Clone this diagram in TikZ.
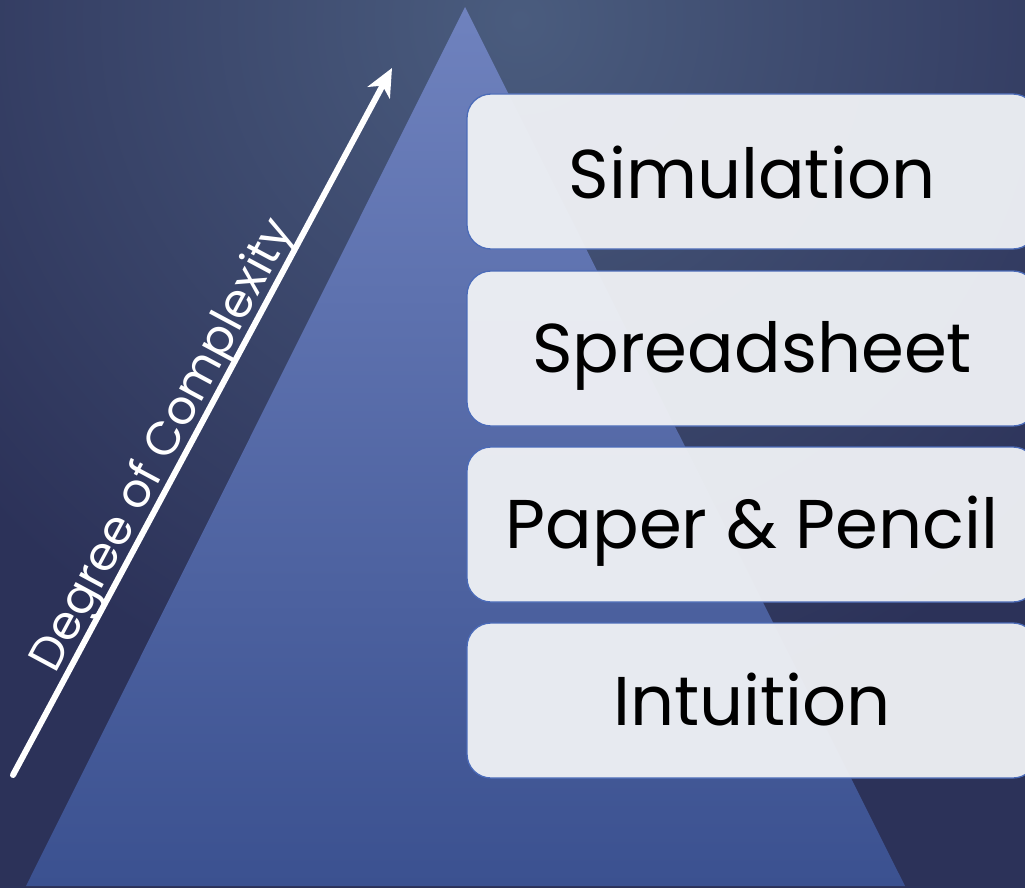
\documentclass[tikz,border=0pt]{standalone}
\usepackage{fontspec}
\setmainfont{Poppins}
\usetikzlibrary{arrows.meta}
\definecolor{bgin}{HTML}{4A5C7E}
\definecolor{bgout}{HTML}{2C3259}
\definecolor{tritop}{HTML}{6F82BE}
\definecolor{tribot}{HTML}{3B5190}
\definecolor{boxfill}{HTML}{EEF0F4}
\definecolor{boxline}{HTML}{4B6BB8}
\tikzset{
  levelbox/.style={draw=boxline, line width=1.3pt, fill=boxfill, fill opacity=0.96,
    rounded corners=24pt, minimum width=570pt, minimum height=155pt, inner sep=0pt},
  leveltext/.style={anchor=base, text=black, font=\fontsize{69}{80}\selectfont, inner sep=0pt},
  axisarrow/.style={draw=white, line width=6pt, line cap=round,
    -{Stealth[length=28pt, width=25pt, inset=8pt]}},
  axistext/.style={anchor=base, text=white, font=\fontsize{47}{52}\selectfont, inner sep=0pt, rotate=61.8}
}
\begin{document}
\begin{tikzpicture}[x=1pt, y=-1pt]
  \useasboundingbox (0,0) rectangle (1025,888);
  % background
  \begin{scope}
    \clip (0,0) rectangle (1025,888);
    \fill[bgout] (0,0) rectangle (1025,888);
    \shade[inner color=bgin, outer color=bgout] (520,20) circle (720);
  \end{scope}
  % pyramid
  \shade[top color=tritop, bottom color=tribot] (465,7) -- (905,886) -- (26,886) -- cycle;
  % boxes
  \node[levelbox] (b1) at (752,171.5) {};
  \node[levelbox] (b2) at (752,348.5) {};
  \node[levelbox] (b3) at (752,524.5) {};
  \node[levelbox] (b4) at (752,700.5) {};
  \node[leveltext] (t1) at (752,198) {Simulation};
  \node[leveltext] (t2) at (752,372) {Spreadsheet};
  \node[leveltext] (t3) at (752,548) {Paper \& Pencil};
  \node[leveltext] (t4) at (752,725) {Intuition};
  % arrow
  \coordinate (a0) at (13,775);
  \coordinate (a1) at (392,68);
  \draw[axisarrow] (a0) -- (a1);
  \node[axistext] (lab) at (175,452) {Degree of Complexity};
\end{tikzpicture}
\end{document}
